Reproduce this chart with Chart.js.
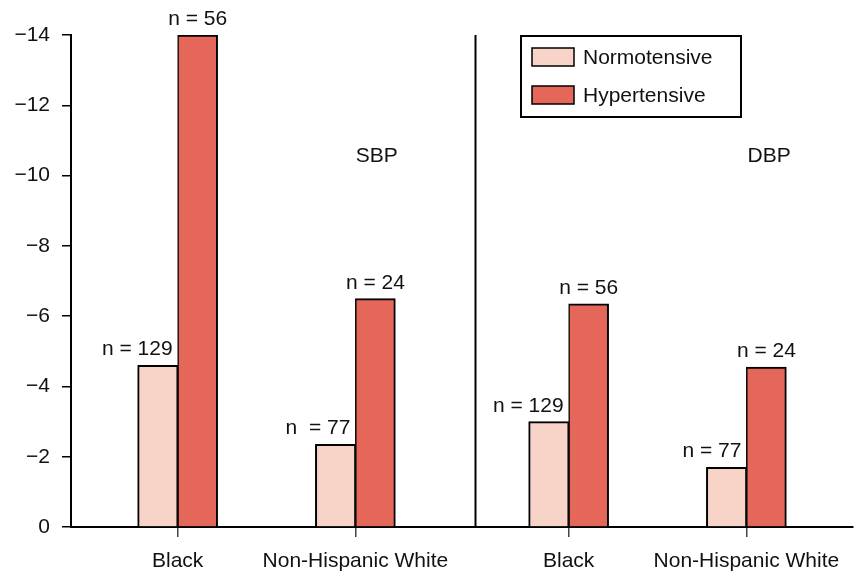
<!DOCTYPE html>
<html>
<head>
<meta charset="utf-8">
<script src="https://cdn.jsdelivr.net/npm/chart.js@4/dist/chart.umd.min.js"></script>
<style>
  html, body { margin: 0; padding: 0; background: #fff; }
  #wrap { width: 855px; height: 575px; position: relative; }
</style>
</head>
<body>
<div id="wrap"><canvas id="c" width="855" height="575"></canvas></div>
<script>
// ---- data ----
const panels = ['SBP', 'DBP'];
const categories = ['Black', 'Non-Hispanic White', 'Black', 'Non-Hispanic White'];
const seriesNames = ['Normotensive', 'Hypertensive'];
const normotensive = [-4.6, -2.35, -3.0, -1.7];
const hypertensive = [-14.0, -6.5, -6.35, -4.55];
const nNormotensive = ['n = 129', 'n  = 77', 'n = 129', 'n = 77'];
const nHypertensive = ['n = 56', 'n = 24', 'n = 56', 'n = 24'];
const yTicks = [0, -2, -4, -6, -8, -10, -12, -14];

// ---- layout (slot units on the category axis) ----
const SLOT_COUNT = 23;
const catSlots = [3, 8, 14, 19];
const dividerSlot = 11.36;
const panelLabelSlots = [8.6, 19.64];
const panelLabelValue = -10.38;
const FONT = '"Liberation Sans", Arial, Helvetica, sans-serif';
const COLORS = ['#F7D3C8', '#E5675A'];

const labels = new Array(SLOT_COUNT).fill('');
const normData = new Array(SLOT_COUNT).fill(null);
const hypData = new Array(SLOT_COUNT).fill(null);
const normN = new Array(SLOT_COUNT).fill(null);
const hypN = new Array(SLOT_COUNT).fill(null);
catSlots.forEach((s, i) => {
  labels[s] = categories[i];
  normData[s] = normotensive[i];
  hypData[s] = hypertensive[i];
  normN[s] = nNormotensive[i];
  hypN[s] = nHypertensive[i];
});

const overlay = {
  id: 'overlay',
  afterDatasetsDraw(chart) {
    const ctx = chart.ctx;
    const xs = chart.scales.x, ys = chart.scales.y;
    const area = chart.chartArea;
    ctx.save();
    // divider
    const dx = Math.round(xs.getPixelForValue(dividerSlot)) + 0.5;
    ctx.strokeStyle = '#000';
    ctx.lineWidth = 2;
    ctx.beginPath();
    ctx.moveTo(dx, area.top);
    ctx.lineTo(dx, area.bottom);
    ctx.stroke();

    ctx.font = '21px ' + FONT;
    ctx.fillStyle = '#111';
    ctx.textBaseline = 'alphabetic';
    // n labels
    const m0 = chart.getDatasetMeta(0), m1 = chart.getDatasetMeta(1);
    m0.data.forEach((bar, i) => {
      if (normN[i] == null) return;
      ctx.textAlign = 'right';
      ctx.fillText(normN[i], bar.x + bar.width / 2 - 5, bar.y - 10);
    });
    m1.data.forEach((bar, i) => {
      if (hypN[i] == null) return;
      ctx.textAlign = 'center';
      ctx.fillText(hypN[i], bar.x, bar.y - 10);
    });
    // panel labels
    ctx.textAlign = 'center';
    panels.forEach((p, i) => {
      ctx.fillText(p, xs.getPixelForValue(panelLabelSlots[i]), ys.getPixelForValue(panelLabelValue));
    });

    // legend
    const lx = area.left + 449, ly = area.top, lw = 222, lh = 83;
    ctx.fillStyle = '#fff';
    ctx.fillRect(lx, ly, lw, lh);
    ctx.strokeStyle = '#000';
    ctx.lineWidth = 2;
    ctx.strokeRect(lx + 1, ly + 1, lw - 2, lh - 2);
    chart.data.datasets.forEach((ds, i) => {
      const sy = ly + 13 + i * 38;
      ctx.fillStyle = ds.backgroundColor;
      ctx.fillRect(lx + 12, sy, 42, 18);
      ctx.lineWidth = 1.5;
      ctx.strokeStyle = '#000';
      ctx.strokeRect(lx + 12, sy, 42, 18);
      ctx.fillStyle = '#111';
      ctx.textAlign = 'left';
      ctx.textBaseline = 'middle';
      ctx.fillText(ds.label, lx + 63, sy + 10);
    });
    ctx.restore();
  }
};

new Chart(document.getElementById('c'), {
  type: 'bar',
  data: {
    labels: labels,
    datasets: [
      { label: seriesNames[0], data: normData, backgroundColor: COLORS[0], borderColor: '#000',
        borderWidth: { left: 2, top: 2, right: 1.5, bottom: 0 }, borderSkipped: 'start' },
      { label: seriesNames[1], data: hypData, backgroundColor: COLORS[1], borderColor: '#000',
        borderWidth: { left: 1.5, top: 2, right: 2, bottom: 0 }, borderSkipped: 'start' }
    ]
  },
  options: {
    responsive: false,
    animation: false,
    devicePixelRatio: 1,
    layout: { padding: { top: 35, right: 2, left: 0, bottom: 0 } },
    datasets: { bar: { barThickness: 40, skipNull: false } },
    plugins: { legend: { display: false }, tooltip: { enabled: false } },
    scales: {
      x: {
        type: 'category',
        offset: false,
        grid: {
          offset: false,
          drawOnChartArea: false,
          drawTicks: true,
          tickLength: 10,
          lineWidth: 1.5,
          color: (c) => (labels[c.index] ? '#444' : 'rgba(0,0,0,0)')
        },
        border: { display: true, color: '#000', width: 2 },
        ticks: {
          autoSkip: false, maxRotation: 0, minRotation: 0, padding: 12,
          color: '#111', font: { family: FONT, size: 21 }
        },
        afterFit: (s) => { s.height = 48; s.paddingLeft = 0; s.paddingRight = 0; }
      },
      y: {
        min: -14, max: 0, reverse: true,
        afterBuildTicks: (s) => { s.ticks = yTicks.map(v => ({ value: v })); },
        grid: {
          drawOnChartArea: false, drawTicks: true, tickLength: 9,
          lineWidth: 1.5, color: '#000'
        },
        border: { display: true, color: '#000', width: 2 },
        ticks: {
          padding: 12, color: '#111', font: { family: FONT, size: 21 },
          callback: (v) => (v < 0 ? '\u2212' + Math.abs(v) : String(v))
        },
        afterFit: (s) => { s.width = 71; s.paddingTop = 0; s.paddingBottom = 0; }
      }
    }
  },
  plugins: [overlay]
});
</script>
</body>
</html>
